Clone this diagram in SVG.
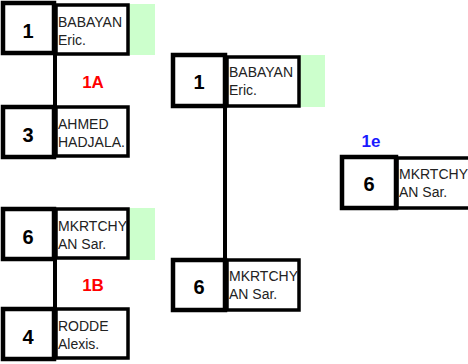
<svg xmlns="http://www.w3.org/2000/svg" width="468" height="364" viewBox="0 0 468 364">
<style>
.seed{fill:#fff;stroke:#000;stroke-width:4.5}
.name{fill:#fff;stroke:#000;stroke-width:3.5}
.grn{fill:#ccffcc}
.num{font-family:"Liberation Sans",Arial,sans-serif;font-weight:bold;font-size:20px;fill:#000;text-anchor:middle}
.nm{font-family:"Liberation Sans",Arial,sans-serif;font-size:14px;fill:#222}
.lbl{font-family:"Liberation Sans",Arial,sans-serif;font-weight:bold;font-size:17px;text-anchor:middle}
.con{stroke:#000;stroke-width:4;fill:none}
</style>
<rect width="468" height="364" fill="#fff"/>
<g id="connectors">
<line class="con" x1="55" y1="54" x2="55" y2="108"/>
<line class="con" x1="55" y1="258" x2="55" y2="310"/>
<line class="con" x1="225" y1="105" x2="225" y2="261"/>
</g>
<g id="n1">
<rect class="grn" x="128" y="4" width="27" height="51"/>
<rect class="name" x="56" y="5" width="72" height="49"/>
<rect class="seed" x="3" y="3" width="51" height="50"/>
<text class="num" x="28" y="38">1</text>
<text class="nm" x="58" y="27">BABAYAN</text>
<text class="nm" x="58" y="45">Eric.</text>
</g>
<g id="n3">
<rect class="name" x="56" y="107" width="72" height="49"/>
<rect class="seed" x="3" y="107" width="51" height="50"/>
<text class="num" x="28" y="142">3</text>
<text class="nm" x="58" y="129">AHMED</text>
<text class="nm" x="58" y="147">HADJALA.</text>
</g>
<g id="n6a">
<rect class="grn" x="128" y="208" width="27" height="52"/>
<rect class="name" x="56" y="209" width="72" height="49"/>
<rect class="seed" x="3" y="209" width="51" height="50"/>
<text class="num" x="28" y="244">6</text>
<text class="nm" x="58" y="231">MKRTCHY</text>
<text class="nm" x="58" y="249">AN Sar.</text>
</g>
<g id="n4">
<rect class="name" x="56" y="309" width="72" height="49"/>
<rect class="seed" x="3" y="309" width="51" height="50"/>
<text class="num" x="28" y="344">4</text>
<text class="nm" x="58" y="331">RODDE</text>
<text class="nm" x="58" y="349">Alexis.</text>
</g>
<text class="lbl" x="93" y="88" fill="#ff0000">1A</text>
<text class="lbl" x="93" y="291" fill="#ff0000">1B</text>
<g id="m1">
<rect class="grn" x="298" y="55" width="27" height="52"/>
<rect class="name" x="227" y="57" width="72" height="49"/>
<rect class="seed" x="173" y="55" width="52" height="51"/>
<text class="num" x="199" y="89">1</text>
<text class="nm" x="229" y="77">BABAYAN</text>
<text class="nm" x="229" y="95">Eric.</text>
</g>
<g id="m6">
<rect class="name" x="227" y="260" width="72" height="50"/>
<rect class="seed" x="173" y="260" width="52" height="50"/>
<text class="num" x="199" y="294">6</text>
<text class="nm" x="229" y="281">MKRTCHY</text>
<text class="nm" x="229" y="299">AN Sar.</text>
</g>
<text class="lbl" x="371" y="147" fill="#1a1aff">1e</text>
<g id="w6">
<rect class="name" x="397" y="158" width="80" height="50"/>
<rect class="seed" x="342" y="157" width="54" height="51"/>
<text class="num" x="369" y="191">6</text>
<text class="nm" x="399" y="179">MKRTCHY</text>
<text class="nm" x="399" y="197">AN Sar.</text>
</g>
</svg>
